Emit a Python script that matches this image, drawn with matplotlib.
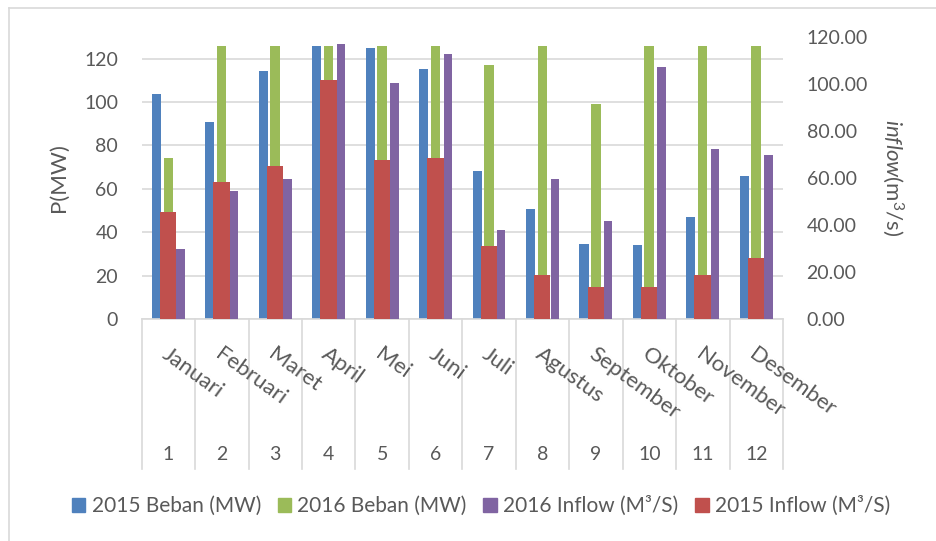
import matplotlib
matplotlib.use("Agg")
import matplotlib.pyplot as plt
from matplotlib.lines import Line2D
from matplotlib.patches import Patch
import numpy as np

plt.rcParams["font.family"] = ["Lato", "DejaVu Sans"]
plt.rcParams["mathtext.fontset"] = "custom"
plt.rcParams["mathtext.rm"] = "Lato"
plt.rcParams["mathtext.it"] = "Lato:italic"

bulan = ["Januari", "Februari", "Maret", "April", "Mei", "Juni", "Juli",
         "Agustus", "September", "Oktober", "November", "Desember"]
nomor = [str(i) for i in range(1, 13)]

beban_2015 = [103.8, 90.6, 114.5, 125.7, 125.1, 115.1, 68.3, 50.6, 34.5, 34.2, 46.9, 66.1]
beban_2016 = [74.0, 126.0, 126.0, 126.0, 126.0, 126.0, 117.2, 126.0, 99.2, 126.0, 126.0, 125.7]
inflow_2016 = [30.0, 54.4, 59.5, 117.2, 100.3, 112.7, 37.9, 59.6, 41.9, 107.3, 72.2, 69.8]
inflow_2015 = [45.7, 58.1, 65.0, 101.5, 67.8, 68.3, 31.1, 18.7, 13.6, 13.6, 18.8, 25.8]

c_blue = "#4F81BD"
c_green = "#9BBB59"
c_purple = "#8064A2"
c_red = "#C0504D"
txt = "#595959"
grid = "#D9D9D9"

fig = plt.figure(figsize=(9.36, 5.41), dpi=100)
ax = fig.add_axes([141.7 / 936, 1 - 319 / 541, (783 - 141.7) / 936, 282 / 541])
ax2 = ax.twinx()

x = np.arange(len(bulan))
ax.bar(x - 0.224, beban_2015, width=0.17, color=c_blue, zorder=2)
ax.bar(x - 0.003, beban_2016, width=0.178, color=c_green, zorder=2)
ax2.bar(x + 0.228, inflow_2016, width=0.155, color=c_purple, zorder=2)
ax2.bar(x - 0.004, inflow_2015, width=0.305, color=c_red, zorder=3)

ax.set_xlim(-0.5, 11.5)
ax.set_ylim(0, 130)
ax2.set_ylim(0, 120)
ax.set_yticks(range(0, 121, 20))
ax2.set_yticks(range(0, 121, 20))
ax2.set_yticklabels([f"{v:.2f}" for v in range(0, 121, 20)])

ax.set_axisbelow(True)
ax.yaxis.grid(True, color=grid, linewidth=1.2)
ax.set_xticks([])
ax.tick_params(axis="y", length=0, pad=17, labelsize=14, labelcolor=txt)
ax2.tick_params(axis="y", length=0, pad=17, labelsize=14, labelcolor=txt)
for s in ["top", "left", "right"]:
    ax.spines[s].set_visible(False)
for s in ax2.spines.values():
    s.set_visible(False)
ax.spines["bottom"].set_color(grid)
ax.spines["bottom"].set_linewidth(1.2)

# garis pemisah kategori di bawah sumbu
for b in np.arange(-0.5, 12.0, 1.0):
    ax.plot([b, b], [0, -150 / 282], color=grid, linewidth=1.2,
            transform=ax.get_xaxis_transform(), clip_on=False)

for i, (m, n) in enumerate(zip(bulan, nomor)):
    ax.annotate(m, xy=(i, 0), xycoords=("data", "axes fraction"),
                xytext=(-8, -38), textcoords="offset pixels",
                rotation=-36, rotation_mode="anchor", ha="left", va="baseline",
                fontsize=16, color=txt)
    ax.annotate(n, xy=(i, 0), xycoords=("data", "axes fraction"),
                xytext=(0, -135), textcoords="offset pixels",
                ha="center", va="center", fontsize=14, color=txt)

fig.text(59 / 936, 1 - 178 / 541, "P(MW)", rotation=90, ha="center", va="center",
         fontsize=16, color=txt)
fig.text(893 / 936, 1 - 178 / 541, r"$\mathit{inflow}\mathrm{(m^3/s)}$", rotation=-90,
         ha="center", va="center", fontsize=16, color=txt)

handles = [Patch(color=c_blue), Patch(color=c_green), Patch(color=c_purple), Patch(color=c_red)]
labels = ["2015 Beban (MW)", "2016 Beban (MW)", "2016 Inflow (M³/S)", "2015 Inflow (M³/S)"]
leg = fig.legend(handles, labels, loc="center", bbox_to_anchor=(481 / 936, 1 - 506 / 541),
                 ncol=4, frameon=False, fontsize=15, handlelength=0.65, handleheight=0.65,
                 handletextpad=0.3, columnspacing=0.8, labelcolor=txt)

# bingkai chart
fig.add_artist(Line2D([9 / 936, 1], [1 - 8 / 541, 1 - 8 / 541], color=grid, linewidth=1.2,
                      transform=fig.transFigure))
fig.add_artist(Line2D([9 / 936, 9 / 936], [0, 1 - 8 / 541], color=grid, linewidth=1.2,
                      transform=fig.transFigure))

fig.savefig("out.png", dpi=100)
